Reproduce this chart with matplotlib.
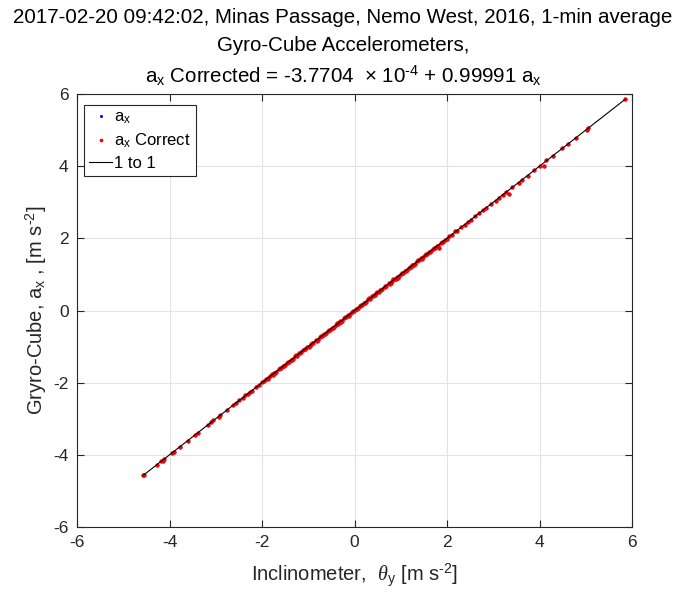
import matplotlib
matplotlib.use("Agg")
import matplotlib.pyplot as plt

plt.rcParams['font.family'] = ['Liberation Sans', 'DejaVu Sans']
plt.rcParams['mathtext.fontset'] = 'custom'
plt.rcParams['mathtext.rm'] = 'Liberation Sans'
plt.rcParams['mathtext.it'] = 'Liberation Serif:italic'
plt.rcParams['mathtext.sf'] = 'Liberation Sans'
plt.rcParams['axes.unicode_minus'] = False

# ---------------- data ----------------
inclinometer = [
    -4.58, -4.56, -4.28, -4.19, -4.15, -4.12, -3.95, -3.91, -3.78, -3.60,
    -3.45, -3.38, -3.16, -3.10, -3.05, -2.93, -2.90, -2.76, -2.63, -2.56,
    -2.49, -2.42, -2.36, -2.31, -2.26, -2.21, -2.13, -2.06, -2.00, -1.95,
    -1.91, -1.86, -1.82, -1.77, -1.73, -1.69, -1.64, -1.58, -1.55, -1.51,
    -1.46, -1.41, -1.37, -1.33, -1.28, -1.24, -1.19, -1.15, -1.11, -1.06,
    -1.02, -0.97, -0.93, -0.89, -0.84, -0.80, -0.75, -0.71, -0.67, -0.62,
    -0.58, -0.53, -0.49, -0.45, -0.40, -0.36, -0.31, -0.27, -0.23, -0.18,
    -0.14, -0.09, -0.05, -0.01, 0.03, 0.08, 0.12, 0.16, 0.21, 0.25,
    0.30, 0.34, 0.38, 0.43, 0.47, 0.52, 0.56, 0.60, 0.65, 0.69,
    0.74, 0.78, 0.82, 0.87, 0.91, 0.96, 1.00, 1.04, 1.09, 1.13,
    1.18, 1.22, 1.26, 1.31, 1.35, 1.40, 1.44, 1.48, 1.53, 1.57,
    1.62, 1.66, 1.70, 1.75, 1.79, 1.82, 1.86, 1.91, 1.95, 2.00,
    2.05, 2.10, 2.18, 2.22, 2.30, 2.38, 2.45, 2.52, 2.60, 2.70,
    2.78, 2.85, 2.95, 3.05, 3.12, 3.20, 3.28, 3.33, 3.40, 3.55,
    3.62, 3.75, 3.88, 4.02, 4.09, 4.15, 4.30, 4.48, 4.62, 4.78,
    5.02, 5.05, 5.85,
    -1.88, -1.79, -1.71, -1.62, -1.53, -1.44, -1.35, -1.26, -1.17, -1.08,
    -0.99, -0.91, -0.82, -0.73, -0.64, -0.56, -0.47, -0.38, -0.29, -0.21,
    -0.12, -0.03, 0.06, 0.14, 0.23, 0.32, 0.41, 0.49, 0.58, 0.67,
    0.76, 0.84, 0.93, 1.02, 1.11, 1.19, 1.28, 1.37, 1.46, 1.55,
    1.64, 1.72, 1.81, 1.89, -0.33, 0.11, 0.44, -0.69, 0.89, 1.24,
]
gyro_ax = [
    -4.57, -4.55, -4.27, -4.18, -4.16, -4.11, -3.94, -3.92, -3.77, -3.61,
    -3.44, -3.39, -3.17, -3.09, -3.04, -2.94, -2.89, -2.77, -2.62, -2.57,
    -2.48, -2.43, -2.35, -2.32, -2.25, -2.22, -2.12, -2.07, -1.99, -1.96,
    -1.90, -1.87, -1.81, -1.78, -1.72, -1.70, -1.63, -1.59, -1.54, -1.52,
    -1.45, -1.42, -1.36, -1.34, -1.27, -1.25, -1.18, -1.16, -1.10, -1.07,
    -1.01, -0.98, -0.92, -0.90, -0.83, -0.81, -0.74, -0.72, -0.66, -0.63,
    -0.57, -0.54, -0.48, -0.46, -0.39, -0.37, -0.30, -0.28, -0.22, -0.19,
    -0.13, -0.10, -0.04, -0.02, 0.04, 0.07, 0.13, 0.15, 0.22, 0.24,
    0.31, 0.33, 0.39, 0.42, 0.48, 0.51, 0.57, 0.59, 0.66, 0.68,
    0.75, 0.77, 0.83, 0.86, 0.92, 0.95, 1.01, 1.03, 1.10, 1.12,
    1.19, 1.21, 1.27, 1.30, 1.36, 1.39, 1.45, 1.47, 1.54, 1.56,
    1.63, 1.65, 1.71, 1.74, 1.80, 1.73, 1.87, 1.90, 1.96, 1.99,
    2.06, 2.09, 2.19, 2.21, 2.31, 2.37, 2.46, 2.51, 2.61, 2.69,
    2.79, 2.84, 2.96, 3.04, 3.13, 3.19, 3.29, 3.23, 3.41, 3.54,
    3.63, 3.74, 3.89, 4.01, 4.01, 4.16, 4.29, 4.49, 4.61, 4.79,
    5.01, 5.06, 5.86,
    -1.91, -1.77, -1.73, -1.60, -1.55, -1.42, -1.37, -1.24, -1.19, -1.06,
    -1.01, -0.89, -0.84, -0.71, -0.66, -0.54, -0.49, -0.36, -0.31, -0.19,
    -0.14, -0.01, 0.04, 0.16, 0.21, 0.34, 0.39, 0.51, 0.56, 0.69,
    0.74, 0.86, 0.91, 1.04, 1.09, 1.21, 1.26, 1.39, 1.44, 1.57,
    1.62, 1.74, 1.79, 1.91, -0.35, 0.13, 0.42, -0.67, 0.87, 1.26,
]
gyro_ax_corrected = [
    -4.57, -4.55, -4.27, -4.18, -4.16, -4.11, -3.94, -3.92, -3.77, -3.61,
    -3.44, -3.39, -3.17, -3.09, -3.04, -2.94, -2.89, -2.77, -2.62, -2.57,
    -2.48, -2.43, -2.35, -2.32, -2.25, -2.22, -2.12, -2.07, -1.99, -1.96,
    -1.90, -1.87, -1.81, -1.78, -1.72, -1.70, -1.63, -1.59, -1.54, -1.52,
    -1.45, -1.42, -1.36, -1.34, -1.27, -1.25, -1.18, -1.16, -1.10, -1.07,
    -1.01, -0.98, -0.92, -0.90, -0.83, -0.81, -0.74, -0.72, -0.66, -0.63,
    -0.57, -0.54, -0.48, -0.46, -0.39, -0.37, -0.30, -0.28, -0.22, -0.19,
    -0.13, -0.10, -0.04, -0.02, 0.04, 0.07, 0.13, 0.15, 0.22, 0.24,
    0.31, 0.33, 0.39, 0.42, 0.48, 0.51, 0.57, 0.59, 0.66, 0.68,
    0.75, 0.77, 0.83, 0.86, 0.92, 0.95, 1.01, 1.03, 1.10, 1.12,
    1.19, 1.21, 1.27, 1.30, 1.36, 1.39, 1.45, 1.47, 1.54, 1.56,
    1.63, 1.65, 1.71, 1.74, 1.80, 1.73, 1.87, 1.90, 1.96, 1.99,
    2.06, 2.09, 2.19, 2.21, 2.31, 2.37, 2.46, 2.51, 2.61, 2.69,
    2.79, 2.84, 2.96, 3.04, 3.13, 3.19, 3.29, 3.23, 3.41, 3.54,
    3.63, 3.74, 3.89, 4.01, 4.01, 4.16, 4.29, 4.49, 4.61, 4.79,
    5.01, 5.06, 5.86,
    -1.91, -1.77, -1.73, -1.60, -1.55, -1.42, -1.37, -1.24, -1.19, -1.06,
    -1.01, -0.89, -0.84, -0.71, -0.66, -0.54, -0.49, -0.36, -0.31, -0.19,
    -0.14, -0.01, 0.04, 0.16, 0.21, 0.34, 0.39, 0.51, 0.56, 0.69,
    0.74, 0.86, 0.91, 1.04, 1.09, 1.21, 1.26, 1.39, 1.44, 1.57,
    1.62, 1.74, 1.79, 1.91, -0.35, 0.13, 0.42, -0.67, 0.87, 1.26,
]
one_to_one = [-4.58, 5.85]

x_ticks = [-6, -4, -2, 0, 2, 4, 6]
y_ticks = [-6, -4, -2, 0, 2, 4, 6]

title_lines = [
    "2017-02-20 09:42:02, Minas Passage, Nemo West, 2016, 1-min average",
    "Gyro-Cube Accelerometers,",
    "a$_\\mathrm{x}$ Corrected = -3.7704  $\\times$ 10$^{\u20104}$ + 0.99991 a$_\\mathrm{x}$",
]
legend_labels = [r"a$_\mathrm{x}$", r"a$_\mathrm{x}$ Correct", "1 to 1"]

# ---------------- figure ----------------
fig = plt.figure(figsize=(6.86, 5.96), dpi=100)
ax = fig.add_axes([77/686, 1-527/596, 555/686, 433/596])

dark = '#262626'
ax.plot(inclinometer, gyro_ax, '.', color='blue', markersize=3, label=legend_labels[0])
ax.plot(inclinometer, gyro_ax_corrected, '.', color='red', markersize=4.2, label=legend_labels[1])
ax.plot(one_to_one, one_to_one, '-', color='black', linewidth=0.8, label=legend_labels[2])

ax.set_xlim(-6, 6)
ax.set_ylim(-6, 6)
ax.set_xticks(x_ticks)
ax.set_yticks(y_ticks)
ax.grid(True, color='#e3e3e3', linewidth=0.8)
ax.set_axisbelow(True)
ax.tick_params(direction='in', top=True, right=True, length=5, width=0.8,
               labelsize=12.5, colors=dark, pad=6)
for s in ax.spines.values():
    s.set_color(dark)
    s.set_linewidth(0.8)

ax.set_xlabel("Inclinometer,  $\\theta_\\mathrm{y}$ [m s$^{\u20102}$]", fontsize=14.5, color=dark, labelpad=8)
ax.set_ylabel("Gryro-Cube, a$_\\mathrm{x}$ , [m s$^{\u20102}$]", fontsize=14.5, color=dark, labelpad=3)

ys = [0.970, 0.924, 0.872]
for t, yy in zip(title_lines, ys):
    fig.text(0.5, yy, t, ha='center', va='center', fontsize=14.8, color='black')

leg = ax.legend(loc='upper left', bbox_to_anchor=(0.0125, 0.975), fontsize=12,
                frameon=True, fancybox=False, framealpha=1, edgecolor=dark,
                handlelength=1.4, handletextpad=0.1, borderpad=0.3,
                labelspacing=0.35, markerscale=0.8, borderaxespad=0)
leg.get_frame().set_linewidth(0.8)

fig.savefig("out.png", dpi=100)
